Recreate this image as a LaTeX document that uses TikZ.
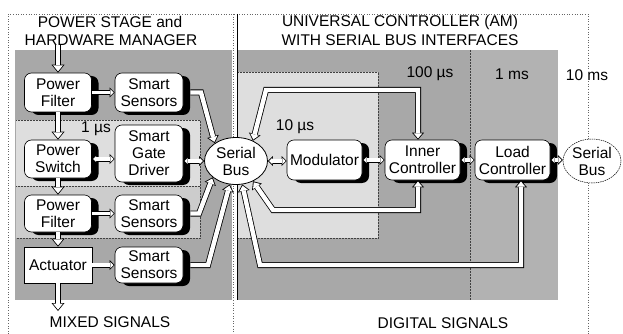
\documentclass[tikz,border=0pt]{standalone}
\usepackage{fontspec}
\setmainfont{Liberation Sans}
\usetikzlibrary{arrows.meta,shapes.geometric,shadows,calc}
\colorlet{shadeD}{black!34}
\colorlet{shadeK}{black!30}
\colorlet{shadeM}{black!20}
\colorlet{shadeL}{black!13}
\tikzset{
  tipBO/.tip={Triangle[width=12pt,length=7pt,line width=0pt]},
  tipBI/.tip={Triangle[width=8.7pt,length=5.1pt,line width=0pt]},
  tipVO/.tip={Triangle[width=13pt,length=8pt,line width=0pt]},
  tipVI/.tip={Triangle[width=9.9pt,length=6.1pt,line width=0pt]},
  tipSO/.tip={Triangle[width=10pt,length=5pt,line width=0pt]},
  tipSI/.tip={Triangle[width=6.4pt,length=3.2pt,line width=0pt]},
  vpipe/.style={draw=black, line width=6pt, -{tipVO},
    postaction={draw=white, line width=4.4pt, shorten >=1.3pt, -{tipVI}}},
  bpipeR/.style={draw=black, line width=6pt, line join=miter, -{tipBO},
    postaction={draw=white, line width=4.4pt, line join=miter, shorten >=1.3pt, -{tipBI}}},
  bpipeB/.style={draw=black, line width=6pt, line join=miter, {tipBO}-{tipBO},
    postaction={draw=white, line width=4.4pt, line join=miter, shorten >=1.3pt, shorten <=1.3pt, {tipBI}-{tipBI}}},
  spipeR/.style={draw=black, line width=5pt, -{tipSO},
    postaction={draw=white, line width=3.4pt, shorten >=1.2pt, -{tipSI}}},
  spipeB/.style={draw=black, line width=5pt, {tipSO}-{tipSO},
    postaction={draw=white, line width=3.4pt, shorten >=1.2pt, shorten <=1.2pt, {tipSI}-{tipSI}}},
  box/.style={draw, line width=0.6pt, rounded corners=7pt, fill=white, align=center, inner sep=0pt,
    drop shadow={shadow xshift=7pt, shadow yshift=-3pt, fill=black, opacity=1}},
  actbox/.style={draw, line width=0.6pt, fill=white, align=center, inner sep=0pt},
  busnode/.style={ellipse, draw, fill=white, align=center, inner sep=0pt},
  lbl/.style={inner sep=0pt},
  dotline/.style={densely dotted, line width=0.5pt, black!75},
  framel/.style={dotted, line width=0.6pt, black!60},
}
\begin{document}
\begin{tikzpicture}[x=1pt, y=-1pt, every node/.style={font=\fontsize{15.5}{17}\selectfont}]
\useasboundingbox[fill=white] (0,0) rectangle (623,334);
% shaded regions, left
\fill[shadeD] (15,50) rectangle (232,300);
\fill[shadeL] (16,120) rectangle (200,186);
\fill[shadeM] (16,186) rectangle (200,238);
\draw[dotline] (16,120) -- (200,120) -- (200,238) -- (16,238);
\draw[dotline] (16,186) -- (200,186);
% shaded regions, right
\fill[shadeD] (238,50) rectangle (470,300);
\fill[shadeK] (470,50) rectangle (558,300);
\fill[shadeL] (238,72) rectangle (378,238);
\draw[dotline] (238,72) -- (378,72) -- (378,238) -- (238,238);
\draw[dotline] (470,50) -- (470,300);
% frame and dividers
\draw[framel] (8,334) -- (8,14) -- (588,14) -- (588,334);
\draw[framel] (233,14) -- (233,334);
\draw[line width=0.7pt] (237,14) -- (237,300);
% nodes
\node[box, minimum width=67pt, minimum height=39pt] (pfA) at (58,92.5) {Power\\Filter};
\node[box, minimum width=68pt, minimum height=39pt] (ssA) at (149,92.5) {Smart\\Sensors};
\node[box, minimum width=67pt, minimum height=38pt] (psw) at (58,159) {Power\\Switch};
\node[box, minimum width=68pt, minimum height=57pt] (sgd) at (149,153.5) {Smart\\Gate\\Driver};
\node[box, minimum width=67pt, minimum height=37pt] (pfB) at (58,213.5) {Power\\Filter};
\node[box, minimum width=68pt, minimum height=37pt] (ssB) at (149,213.5) {Smart\\Sensors};
\node[actbox, minimum width=68pt, minimum height=36pt] (act) at (58,265) {Actuator};
\node[box, minimum width=68pt, minimum height=36pt] (ssC) at (149,265) {Smart\\Sensors};
\node[busnode, line width=0.8pt, minimum width=63pt, minimum height=47pt] (bus) at (236,161) {Serial\\Bus};
\node[box, minimum width=75pt, minimum height=40pt] (mod) at (324.5,160) {Modulator};
\node[box, minimum width=75pt, minimum height=40pt] (inner) at (422.5,160) {Inner\\Controller};
\node[box, minimum width=75pt, minimum height=40pt] (load) at (512.5,160) {Load\\Controller};
\node[busnode, line width=0.5pt, dash pattern=on 1.5pt off 0.8pt, minimum width=58pt, minimum height=44pt] (busR) at (592,161) {Serial\\Bus};
% free ends
\coordinate (inTop) at (58,44);
\coordinate (outBot) at (58,311);
% vertical power path
\draw[vpipe] (inTop) -- (pfA.north);
\draw[vpipe] (pfA.south) -- (psw.north);
\draw[vpipe] (psw.south) -- (pfB.north);
\draw[vpipe] (pfB.south) -- (act.north);
\draw[vpipe] (act.south) -- (outBot);
% short horizontal links
\draw[spipeR] (pfA.east) -- (ssA.west);
\draw[spipeB] (psw.east) -- (sgd.west |- psw.east);
\draw[spipeR] (pfB.east) -- (ssB.west);
\draw[spipeR] (act.east) -- (ssC.west);
\draw[spipeB] (sgd.east |- bus.west) -- (bus.west);
\draw[spipeB] (bus.east) -- (mod.west |- bus.east);
\draw[spipeB] (mod.east) -- (inner.west);
\draw[spipeB] (inner.east) -- (load.west);
\draw[spipeB] (load.east) -- (busR.west |- load.east);
% bus pipes
\draw[bpipeR] ($(ssA.east)+(7,0)$) -- (201,92.5) -- (bus.140);
\draw[bpipeR] ($(ssB.east)+(7,0)$) -- (199,213.5) -- (bus.215);
\draw[bpipeR] ($(ssC.east)+(7,0)$) -- (208,265) -- (bus.255);
\draw[bpipeB] (bus.50) -- (266,90) -| ($(inner.north)+(-4.5,0)$);
\draw[bpipeB] (bus.-50) -- (273,210) -| ($(inner.south)+(-4.5,0)$);
\draw[bpipeB] (bus.-75) -- (260,265) -| ($(load.south)+(8.5,0)$);
% labels
\node[lbl] (t1) at (110,22) {POWER STAGE and};
\node[lbl] (t2) at (111,40) {HARDWARE MANAGER};
\node[lbl] (t3) at (400,22) {UNIVERSAL CONTROLLER (AM)};
\node[lbl] (t4) at (400,40) {WITH SERIAL BUS INTERFACES};
\node[lbl] (t5) at (110,322) {MIXED SIGNALS};
\node[lbl] (t6) at (443,323) {DIGITAL SIGNALS};
\node[lbl] (s1) at (96,129) {1 µs};
\node[lbl] (s2) at (295,127) {10 µs};
\node[lbl] (s3) at (430,74) {100 µs};
\node[lbl] (s4) at (512,74) {1 ms};
\node[lbl, fill=white, inner sep=1pt] (s5) at (587,75) {10 ms};
\end{tikzpicture}
\end{document}
